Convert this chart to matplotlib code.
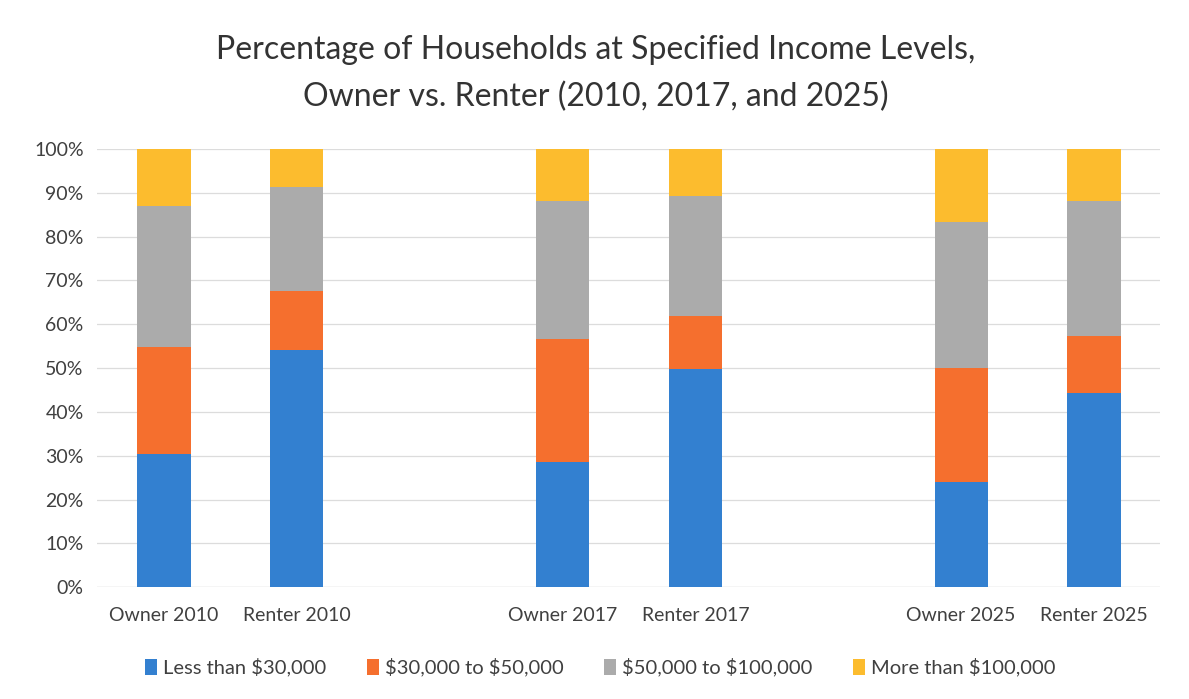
import numpy as np
import matplotlib
matplotlib.use('Agg')
from matplotlib import pyplot as plt

plt.rcParams['font.family'] = ['Lato', 'DejaVu Sans']
plt.rcParams['text.parse_math'] = False

categories = ['Owner 2010', 'Renter 2010', 'Owner 2017', 'Renter 2017', 'Owner 2025', 'Renter 2025']
series_names = ['Less than $30,000', '$30,000 to $50,000', '$50,000 to $100,000', 'More than $100,000']
less_30k = [30.3, 54.1, 28.6, 49.7, 24.0, 44.3]
from_30k_50k = [24.5, 13.5, 28.0, 12.1, 26.1, 13.0]
from_50k_100k = [32.2, 23.6, 31.4, 27.5, 33.2, 30.8]
more_100k = [13.0, 8.8, 12.0, 10.7, 16.7, 11.9]
colors = ['#3380d0', '#f56f2e', '#ababab', '#fcbc2e']

# owner/renter pairs, one empty slot between years
x = np.array([3 * (i // 2) + i % 2 for i in range(len(categories))])

fig = plt.figure(figsize=(11.89, 6.99), dpi=100)
ax = fig.add_axes([0.082, 0.160, 0.894, 0.627])

bottom = np.zeros(len(categories))
for name, vals, c in zip(series_names, [less_30k, from_30k_50k, from_50k_100k, more_100k], colors):
    ax.bar(x, vals, 0.4, bottom=bottom, color=c, label=name, zorder=2)
    bottom += np.array(vals)

ax.set_xlim(-0.5, 7.5)
ax.set_ylim(0, 100)
ax.set_yticks(np.arange(0, 101, 10))
ax.set_yticklabels([f'{v}%' for v in range(0, 101, 10)])
ax.set_xticks(x)
ax.set_xticklabels(categories)
ax.tick_params(length=0, labelsize=14, colors='#404040', pad=10)
ax.tick_params(axis='x', pad=14)
ax.grid(axis='y', color='#dcdcdc', linewidth=0.9, zorder=0)
for s in ax.spines.values():
    s.set_visible(False)
ax.axhline(0, color='#d0d0d0', linewidth=0.9, zorder=1)

fig.text(0.501, 0.895, 'Percentage of Households at Specified Income Levels,\nOwner vs. Renter (2010, 2017, and 2025)',
         ha='center', va='center', fontsize=23, color='#333333', linespacing=1.7)

fig.legend(loc='center', bbox_to_anchor=(0.505, 0.045), ncol=4, frameon=False,
           fontsize=14.5, handlelength=0.6, handleheight=0.8, handletextpad=0.3,
           columnspacing=2.0, labelcolor='#404040')

fig.savefig('out.png', dpi=100, facecolor='white')
